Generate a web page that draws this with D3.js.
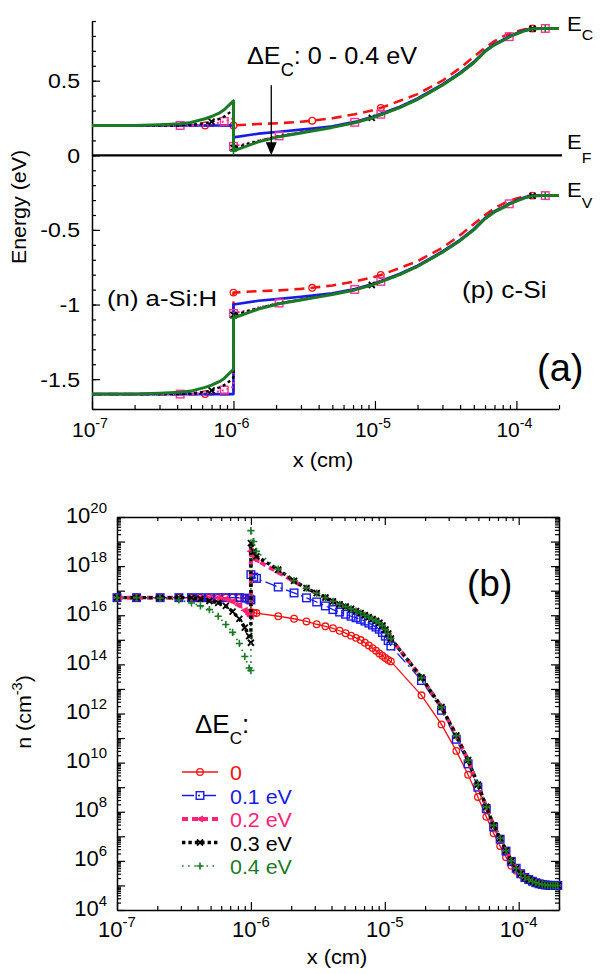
<!DOCTYPE html>
<html><head><meta charset="utf-8">
<script src="https://cdn.jsdelivr.net/npm/d3@7"></script>
<style>body{margin:0;background:#fff}svg{display:block}text{font-family:"Liberation Sans",Arial,sans-serif}</style>
</head><body><svg id="c" width="600" height="974"></svg>
<script>
// ---------- DATA: panel (a) band diagram ----------
const topX = [1e-7,2e-7,3e-7,4.2e-7,5e-7,6.3e-7,7e-7,8e-7,8.6e-7,9.5e-7,1e-6,
  1e-6,1.5e-6,2.1e-6,3e-6,3.6e-6,5e-6,7.2e-6,9.5e-6,1.1e-5,1.5e-5,2e-5,2.5e-5,3e-5,4e-5,5e-5,6e-5,7e-5,8e-5,8.9e-5,1e-4,1.15e-4,1.3e-4,1.6e-4,2e-4];
const ecRed = [0.2,0.2,0.2,0.2,0.2,0.2,0.2,0.2,0.2,0.2,0.2,
  0.2,0.21,0.215,0.225,0.232,0.248,0.275,0.3,0.318,0.365,0.41,0.46,0.5,0.585,0.66,0.72,0.765,0.795,0.815,0.83,0.845,0.85,0.85,0.85];
const evRed = [-1.6,-1.6,-1.6,-1.6,-1.6,-1.6,-1.6,-1.6,-1.6,-1.6,-1.6,
  -0.92,-0.91,-0.905,-0.895,-0.888,-0.872,-0.845,-0.82,-0.802,-0.755,-0.71,-0.66,-0.62,-0.535,-0.46,-0.4,-0.355,-0.325,-0.305,-0.29,-0.275,-0.27,-0.27,-0.27];
const ecBlue = [0.2,0.2,0.2,0.2,0.2,0.2,0.2,0.2,0.2,0.2,0.2,
  0.12,0.145,0.158,0.172,0.18,0.195,0.224,0.256,0.278,0.326,0.381,0.433,0.476,0.554,0.626,0.7,0.745,0.773,0.798,0.818,0.84,0.85,0.85,0.85];
const evBlue = [-1.6,-1.6,-1.6,-1.6,-1.6,-1.6,-1.6,-1.6,-1.6,-1.6,-1.6,
  -1.0,-0.975,-0.962,-0.948,-0.94,-0.925,-0.896,-0.864,-0.842,-0.794,-0.739,-0.687,-0.644,-0.566,-0.494,-0.42,-0.375,-0.347,-0.322,-0.302,-0.28,-0.27,-0.27,-0.27];
const ecPink = [0.2,0.2,0.2,0.2,0.2,0.205,0.21,0.22,0.227,0.24,0.25,
  0.06,0.1,0.13,0.155,0.167,0.19,0.221,0.253,0.275,0.323,0.378,0.43,0.473,0.551,0.623,0.697,0.742,0.77,0.795,0.815,0.838,0.849,0.85,0.85];
const evPink = [-1.6,-1.6,-1.6,-1.6,-1.6,-1.595,-1.59,-1.58,-1.573,-1.56,-1.55,
  -1.06,-1.02,-0.99,-0.965,-0.953,-0.93,-0.899,-0.867,-0.845,-0.797,-0.742,-0.69,-0.647,-0.569,-0.497,-0.423,-0.378,-0.35,-0.325,-0.305,-0.282,-0.271,-0.27,-0.27];
const ecBlack = [0.2,0.2,0.2,0.2,0.205,0.215,0.225,0.245,0.26,0.29,0.31,
  0.05,0.095,0.128,0.152,0.165,0.188,0.22,0.251,0.273,0.321,0.376,0.428,0.471,0.549,0.621,0.696,0.741,0.769,0.794,0.814,0.836,0.848,0.85,0.85];
const evBlack = [-1.6,-1.6,-1.6,-1.6,-1.595,-1.585,-1.575,-1.555,-1.54,-1.51,-1.49,
  -1.07,-1.025,-0.992,-0.968,-0.955,-0.932,-0.9,-0.869,-0.847,-0.799,-0.744,-0.692,-0.649,-0.571,-0.499,-0.424,-0.379,-0.351,-0.326,-0.306,-0.284,-0.272,-0.27,-0.27];
const ecGreen = [0.2,0.2,0.205,0.212,0.22,0.245,0.26,0.285,0.305,0.345,0.365,
  0.03,0.09,0.125,0.15,0.163,0.187,0.218,0.25,0.272,0.32,0.375,0.427,0.47,0.548,0.62,0.695,0.74,0.768,0.793,0.813,0.835,0.848,0.85,0.85];
const evGreen = [-1.6,-1.6,-1.595,-1.588,-1.58,-1.555,-1.54,-1.515,-1.495,-1.455,-1.435,
  -1.09,-1.03,-0.995,-0.97,-0.957,-0.933,-0.902,-0.87,-0.848,-0.8,-0.745,-0.693,-0.65,-0.572,-0.5,-0.425,-0.38,-0.352,-0.327,-0.307,-0.285,-0.272,-0.27,-0.27];
// indices of topX carrying a marker symbol
const mkRed = [5,11,15,19,32];
const mkBlue = [];
const mkPink = [3,8,11,13,17,19,29,33];
const mkBlack = [6,11,18,32];
const mkGreen = [11,33];
const eTicks = [0.5,0,-0.5,-1,-1.5];
const eTickLabels = ["0.5","0","-0.5","-1","-1.5"];
const arrowX = 1.85e-6, arrowE = [0.47, 0];

// ---------- DATA: panel (b) electron density ----------
const nX = [1.0e-7,1.4e-7,2.1e-7,2.9e-7,3.6e-7,4.2e-7,4.9e-7,5.7e-7,6.5e-7,7.3e-7,8.2e-7,9.0e-7,9.7e-7,1.0e-6,
  1.0e-6,1.05e-6,1.1e-6,1.6e-6,2.1e-6,2.6e-6,3.1e-6,3.6e-6,4.1e-6,4.6e-6,5.1e-6,5.6e-6,6.1e-6,6.6e-6,7.1e-6,7.6e-6,8.1e-6,8.6e-6,9.1e-6,9.6e-6,1.01e-5,1.06e-5,1.11e-5,
  1.88e-5,2.65e-5,3.42e-5,4.19e-5,4.96e-5,5.73e-5,6.5e-5,7.27e-5,8.04e-5,8.81e-5,9.58e-5,1.035e-4,1.112e-4,1.189e-4,1.266e-4,1.343e-4,1.42e-4,1.497e-4,1.574e-4,1.651e-4,1.728e-4,1.805e-4,1.882e-4,1.959e-4];
const nRed = [5.2e16,5.2e16,5.2e16,5.2e16,5.2e16,5.2e16,5.2e16,5.2e16,5.2e16,5.2e16,5.1e16,5.0e16,4.9e16,4.8e16,
  1.32e16,1.26e16,1.23e16,9.1e15,7.2e15,5.6e15,4.3e15,3.55e15,2.95e15,2.34e15,1.86e15,1.48e15,1.2e15,9.8e14,7.6e14,5.9e14,4.6e14,3.6e14,2.8e14,2.24e14,1.82e14,1.51e14,1.32e14,
  5.5e12,3.6e11,3.0e10,3.2e9,4.0e8,6.2e7,1.32e7,4.0e6,1.41e6,6.3e5,4.0e5,2.8e5,2.1e5,1.74e5,1.48e5,1.29e5,1.17e5,1.1e5,1.05e5,1.02e5,1.0e5,1.0e5,1.0e5,1.0e5];
const nBlue = [5.2e16,5.2e16,5.2e16,5.2e16,5.2e16,5.2e16,5.2e16,5.2e16,5.2e16,5.2e16,5.2e16,5.0e16,4.6e16,4.2e16,
  4.5e17,3.55e17,3.16e17,1.41e17,8.1e16,5.1e16,3.47e16,2.4e16,1.7e16,1.35e16,1.1e16,9.1e15,7.9e15,6.8e15,5.8e15,4.8e15,4.0e15,3.3e15,2.7e15,2.0e15,1.41e15,9.3e14,5.6e14,
  2.2e13,1.35e12,8.9e10,8.9e9,1.0e9,1.32e8,2.4e7,7.6e6,2.5e6,9.5e5,5.0e5,3.0e5,2.1e5,1.74e5,1.48e5,1.29e5,1.17e5,1.1e5,1.05e5,1.02e5,1.0e5,1.0e5,1.0e5,1.0e5];
const nPink = [5.2e16,5.2e16,5.2e16,5.2e16,5.2e16,5.2e16,5.2e16,5.2e16,4.6e16,3.6e16,2.5e16,1.58e16,1.05e16,8.9e15,
  4.0e18,2.5e18,1.78e18,5.6e17,2.4e17,1.26e17,7.9e16,5.25e16,3.7e16,2.8e16,2.24e16,1.82e16,1.48e16,1.23e16,1.0e16,8.3e15,6.9e15,5.9e15,4.9e15,3.8e15,2.6e15,1.78e15,1.12e15,
  2.9e13,1.82e12,1.26e11,1.26e10,1.26e9,1.58e8,2.8e7,8.3e6,2.6e6,1.0e6,5.0e5,3.0e5,2.1e5,1.74e5,1.48e5,1.29e5,1.17e5,1.1e5,1.05e5,1.02e5,1.0e5,1.0e5,1.0e5,1.0e5];
const nBlack = [5.2e16,5.2e16,5.2e16,5.2e16,5.2e16,4.6e16,3.8e16,3.16e16,2.4e16,1.41e16,7.1e15,3.16e15,1.41e15,7.6e14,
  8.7e18,4.0e18,2.5e18,7.2e17,2.5e17,1.26e17,7.9e16,5.25e16,3.7e16,2.8e16,2.24e16,1.82e16,1.48e16,1.23e16,1.0e16,8.3e15,6.9e15,5.9e15,4.9e15,3.8e15,2.6e15,1.78e15,1.12e15,
  2.9e13,1.82e12,1.26e11,1.26e10,1.26e9,1.58e8,2.8e7,8.3e6,2.6e6,1.0e6,5.0e5,3.0e5,2.1e5,1.74e5,1.48e5,1.29e5,1.17e5,1.1e5,1.05e5,1.02e5,1.0e5,1.0e5,1.0e5,1.0e5];
const nGreen = [5.2e16,5.2e16,5.0e16,4.2e16,3.16e16,2.4e16,1.7e16,9.1e15,4.2e15,2.0e15,7.1e14,2.1e14,7.1e13,5.6e13,
  2.8e19,1.0e19,4.0e18,7.6e17,2.6e17,1.26e17,7.9e16,5.25e16,3.7e16,2.8e16,2.24e16,1.82e16,1.48e16,1.23e16,1.0e16,8.3e15,6.9e15,5.9e15,4.9e15,3.8e15,2.6e15,1.78e15,1.12e15,
  2.9e13,1.82e12,1.26e11,1.26e10,1.26e9,1.58e8,2.8e7,8.3e6,2.6e6,1.0e6,5.0e5,3.0e5,2.1e5,1.74e5,1.48e5,1.29e5,1.17e5,1.1e5,1.05e5,1.02e5,1.0e5,1.0e5,1.0e5,1.0e5];
const xDecades = [1e-7,1e-6,1e-5,1e-4];
const xDecadeExp = ["-7","-6","-5","-4"];
const nLabelExp = [20,18,16,14,12,10,8,6,4];
const legendLabels = ["0","0.1 eV","0.2 eV","0.3 eV","0.4 eV"];

// ---------- STYLES ----------
const C = {red:"#f01414", blue:"#1a1ae6", pink:"#ff2277", black:"#000000", green:"#1b7a26"};
const svg = d3.select("#c");

function T(g, x, y, parts, o) {
  const t = g.append("text")
    .attr("transform", `translate(${x},${y})` + (o.rot ? ` rotate(${o.rot})` : "") + ` scale(${o.sx || 1},1)`)
    .attr("text-anchor", o.anchor || "start").attr("font-size", o.size).attr("fill", o.fill || "#000");
  let shift = 0;
  parts.forEach(p => {
    const s = typeof p === "string" ? {t: p} : p;
    const ts = t.append("tspan").text(s.t);
    const target = s.sup ? -o.size * (o.supUp || 0.45) : s.sub ? o.size * (o.subDown || 0.38) : 0;
    if (target !== shift) { ts.attr("dy", target - shift); shift = target; }
    if (s.sup || s.sub) ts.attr("font-size", o.size * (o.small || 0.68));
  });
  return t;
}
function marker(g, type, x, y, color) {
  if (type === "circle") g.append("circle").attr("cx", x).attr("cy", y).attr("r", 3.3).attr("fill", "none").attr("stroke", color).attr("stroke-width", 1.3);
  else if (type === "square") g.append("rect").attr("x", x - 3.8).attr("y", y - 3.8).attr("width", 7.6).attr("height", 7.6).attr("fill", "none").attr("stroke", color).attr("stroke-width", 1.4);
  else if (type === "tri") g.append("path").attr("d", `M${x-4.5},${y}L${x+3},${y-3.6}L${x+3},${y+3.6}Z`).attr("fill", color);
  else if (type === "x") g.append("path").attr("d", `M${x-3},${y-3}L${x+3},${y+3}M${x-3},${y+3}L${x+3},${y-3}`).attr("stroke", color).attr("stroke-width", 1.8);
  else if (type === "plus") g.append("path").attr("d", `M${x-3.6},${y}L${x+3.6},${y}M${x},${y-3.6}L${x},${y+3.6}`).attr("stroke", color).attr("stroke-width", 1.6);
}
function minorLog(lo, hi) {
  const out = [];
  for (let e = Math.floor(Math.log10(lo)); e <= Math.ceil(Math.log10(hi)); e++)
    for (let m = 2; m <= 9; m++) { const v = m * Math.pow(10, e); if (v >= lo * 0.999 && v <= hi * 1.001) out.push(v); }
  return out;
}
function styleAxis(g, keepDomain) {
  g.selectAll("path.domain").attr("stroke", "#000").attr("stroke-width", 1.5);
  if (!keepDomain) g.selectAll("path.domain").remove();
  g.selectAll(".tick line").attr("stroke", "#000").attr("stroke-width", 1.2);
  g.selectAll(".tick text").remove();
}

// =============== PANEL (a) ===============
const xA = d3.scaleLog().domain([1e-7, 2e-4]).range([92, 559]);
const yA = d3.scaleLinear().domain([-1.7, 0.9]).range([409, 21]);
const gA = svg.append("g");

styleAxis(gA.append("g").attr("transform", "translate(92,0)").call(d3.axisLeft(yA).tickValues(d3.range(-17, 10).map(d => d / 10)).tickSize(-4).tickSizeOuter(0)), false);
styleAxis(gA.append("g").attr("transform", "translate(92,0)").call(d3.axisLeft(yA).tickValues(eTicks).tickSize(-8).tickSizeOuter(0)), true);
styleAxis(gA.append("g").attr("transform", "translate(0,409)").call(d3.axisBottom(xA).tickValues(minorLog(1e-7, 2e-4)).tickSize(-4).tickSizeOuter(0)), false);
styleAxis(gA.append("g").attr("transform", "translate(0,409)").call(d3.axisBottom(xA).tickValues(xDecades).tickSize(-8).tickSizeOuter(0)), true);

eTicks.forEach((v, i) => T(gA, 80, yA(v) + 7.5, [eTickLabels[i]], {size: 21, anchor: "end", sx: 1.1}));
xDecades.forEach((v, i) => T(gA, xA(v) - 2, 437, ["10", {t: xDecadeExp[i], sup: true}], {size: 21, anchor: "middle"}));
T(gA, 26, 207, ["Energy (eV)"], {size: 21, anchor: "middle", rot: -90, sx: 1.02});
T(gA, 323, 467, ["x (cm)"], {size: 21, anchor: "middle", sx: 1.04});

// Fermi level
gA.append("line").attr("x1", xA(1e-7)).attr("x2", xA(2e-4) + 3).attr("y1", yA(0)).attr("y2", yA(0)).attr("stroke", "#000").attr("stroke-width", 2.2);

const topSeries = [
  {ec: ecRed, ev: evRed, mk: mkRed, color: C.red, w: 2.6, dash: "10,6", type: "circle"},
  {ec: ecBlue, ev: evBlue, mk: mkBlue, color: C.blue, w: 2.6, dash: null, type: "square"},
  {ec: ecPink, ev: evPink, mk: mkPink, color: "#ff3399", w: 2, dash: "2,3", type: "square"},
  {ec: ecBlack, ev: evBlack, mk: mkBlack, color: C.black, w: 2.4, dash: "3,3", type: "x"},
  {ec: ecGreen, ev: evGreen, mk: mkGreen, color: C.green, w: 3, dash: null, type: "plus"}
];
const lineA = d3.line().x(d => xA(d[0])).y(d => yA(d[1]));
topSeries.forEach(s => {
  [s.ec, s.ev].forEach(arr => {
    const pts = topX.map((x, i) => [x, arr[i]]);
    gA.append("path").attr("d", lineA(pts)).attr("fill", "none").attr("stroke", s.color)
      .attr("stroke-width", s.w).attr("stroke-dasharray", s.dash).attr("stroke-linejoin", "round");
    s.mk.forEach(i => marker(gA, s.type, xA(topX[i]), yA(arr[i]), s.color));
  });
});

// annotations
const ax = xA(arrowX);
gA.append("line").attr("x1", ax).attr("x2", ax).attr("y1", yA(arrowE[0])).attr("y2", yA(arrowE[1]) - 11).attr("stroke", "#000").attr("stroke-width", 1.3);
gA.append("path").attr("d", `M${ax-5.5},${yA(arrowE[1])-13}L${ax+5.5},${yA(arrowE[1])-13}L${ax},${yA(arrowE[1])}Z`).attr("fill", "#000");
T(gA, 247, 64, ["\u0394E", {t: "C", sub: true}, ": 0 - 0.4 eV"], {size: 24.5, sx: 1.03, subDown: 0.5, small: 0.72});
T(gA, 567, 31, ["E", {t: "C", sub: true}], {size: 21, subDown: 0.45, small: 0.72, sx: 1.05});
T(gA, 567, 149, ["E", {t: "F", sub: true}], {size: 21, subDown: 0.65, small: 0.72, sx: 1.05});
T(gA, 567, 197, ["E", {t: "V", sub: true}], {size: 21, subDown: 0.5, small: 0.72, sx: 1.05});
T(gA, 107, 306, ["(n) a-Si:H"], {size: 23, sx: 1.12});
T(gA, 462, 298, ["(p) c-Si"], {size: 23, sx: 1.14});
T(gA, 537, 381, ["(a)"], {size: 38});

// =============== PANEL (b) ===============
const xB = d3.scaleLog().domain([1e-7, 2e-4]).range([117, 559]);
const yB = d3.scaleLog().domain([1e4, 1e20]).range([910, 517]);
const gB = svg.append("g");
const nDec = d3.range(4, 21).map(e => Math.pow(10, e));
const nMin = minorLog(1e4, 1e20);
[["axisLeft", "translate(117,0)", yB], ["axisRight", "translate(559,0)", yB], ["axisBottom", "translate(0,910)", xB], ["axisTop", "translate(0,517)", xB]].forEach(([fn, tr, sc]) => {
  const isY = sc === yB;
  styleAxis(gB.append("g").attr("transform", tr).call(d3[fn](sc).tickValues(isY ? nMin : minorLog(1e-7, 2e-4)).tickSize(-4).tickSizeOuter(0)), false);
  styleAxis(gB.append("g").attr("transform", tr).call(d3[fn](sc).tickValues(isY ? nDec : xDecades).tickSize(-8).tickSizeOuter(0)), true);
});
nLabelExp.forEach(e => T(gB, 107, yB(Math.pow(10, e)) + 5.5, ["10", {t: String(e), sup: true}], {size: 22, anchor: "end"}));
xDecades.forEach((v, i) => T(gB, xB(v), 937, ["10", {t: xDecadeExp[i], sup: true}], {size: 22, anchor: "middle"}));
T(gB, 337, 964, ["x (cm)"], {size: 21, anchor: "middle", sx: 1.04});
T(gB, 31, 712, ["n (cm", {t: "-3", sup: true}, ")"], {size: 21, anchor: "middle", rot: -90, sx: 1.02});
T(gB, 467, 596, ["(b)"], {size: 37});

const botSeries = [
  {n: nRed, color: C.red, w: 1.3, dash: null, type: "circle"},
  {n: nBlue, color: C.blue, w: 1.3, dash: "12,4,2,4", type: "square"},
  {n: nPink, color: C.pink, w: 4, dash: "6,4", type: "tri"},
  {n: nBlack, color: C.black, w: 3.4, dash: "3.4,3", type: "x"},
  {n: nGreen, color: C.green, w: 1.6, dash: "1.6,4.5", type: "plus"}
];
const lineB = d3.line().x(d => xB(d[0])).y(d => yB(d[1]));
botSeries.forEach(s => {
  const pts = nX.map((x, i) => [x, s.n[i]]);
  gB.append("path").attr("d", lineB(pts)).attr("fill", "none").attr("stroke", s.color)
    .attr("stroke-width", s.w).attr("stroke-dasharray", s.dash);
  pts.forEach(p => marker(gB, s.type, xB(p[0]), yB(p[1]), s.color));
});

// legend
T(gB, 195, 733, ["\u0394E", {t: "C", sub: true}, ":"], {size: 26, subDown: 0.42, small: 0.66});
const rowY = [772, 795.5, 819, 842.5, 866];
botSeries.forEach((s, i) => {
  gB.append("line").attr("x1", 182).attr("x2", 218).attr("y1", rowY[i]).attr("y2", rowY[i])
    .attr("stroke", s.color).attr("stroke-width", s.w).attr("stroke-dasharray", s.dash);
  marker(gB, s.type, 200, rowY[i], s.color);
  T(gB, 230, rowY[i] + 8, [legendLabels[i]], {size: 21, sx: 1.02, fill: s.color});
});
</script></body></html>
